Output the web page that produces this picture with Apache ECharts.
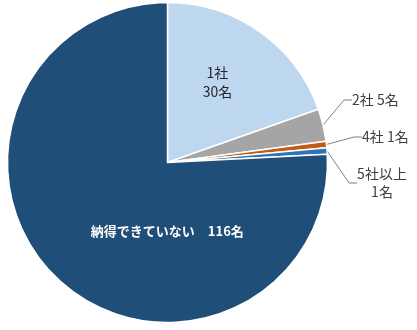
<!DOCTYPE html>
<html><head><meta charset="utf-8">
<script src="https://cdn.jsdelivr.net/npm/echarts@6/dist/echarts.min.js"></script>
<style>html,body{margin:0;padding:0;background:#fff}#c{width:417px;height:330px}</style>
</head><body><div id="c"></div>
<script>
const categories = ['1社', '2社', '4社', '5社以上', '納得できていない'];
const values = [30, 5, 1, 1, 116];
const colors = ['#BDD7EE', '#A5A5A5', '#C55A11', '#2E75B6', '#1F4E79'];

const chart = echarts.init(document.getElementById('c'));
const font = '"Noto Sans CJK JP", sans-serif';
const data = categories.map((c, i) => {
  const d = { name: c, value: values[i], itemStyle: { color: colors[i] } };
  if (i === 0) {
    d.label = { position: 'inside', formatter: '{b}\n{c}名', color: '#262626', lineHeight: 19, offset: [2, -13] };
  } else if (i === 4) {
    d.label = { position: 'inside', formatter: '{b}　{c}名', color: '#ffffff', fontWeight: 'bold', fontSize: 13, offset: [57, 8] };
  } else if (i === 3) {
    d.label = { position: 'outside', formatter: '{b}\n{c}名', align: 'center', lineHeight: 18 };
  } else {
    d.label = { position: 'outside', formatter: '{b} {c}名' };
  }
  return d;
});

chart.setOption({
  animation: false,
  series: [{
    type: 'pie',
    center: [167.5, 162.5],
    radius: [0, 160],
    startAngle: 90,
    clockwise: true,
    avoidLabelOverlap: false,
    itemStyle: { borderColor: '#ffffff', borderWidth: 1.5 },
    label: { fontFamily: font, fontSize: 14, color: '#404040' },
    labelLine: { show: true, length: 12, length2: 8, smooth: false, lineStyle: { color: '#7f7f7f', width: 1 } },
    labelLayout: function (p) {
      if (p.dataIndex === 1) return { x: 352, y: 100, align: 'left', verticalAlign: 'middle' };
      if (p.dataIndex === 2) return { x: 362, y: 137, align: 'left', verticalAlign: 'middle' };
      if (p.dataIndex === 3) return { x: 382, y: 183, align: 'center', verticalAlign: 'middle' };
      return {};
    },
    data: data
  }]
});
</script></body></html>
